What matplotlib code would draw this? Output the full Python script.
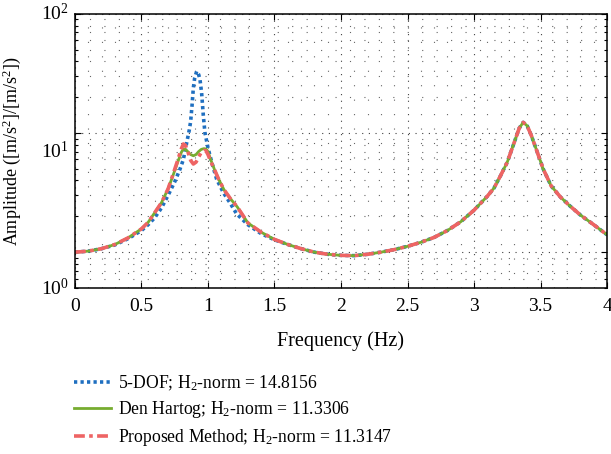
import matplotlib
matplotlib.use("Agg")
import matplotlib.pyplot as plt
import numpy as np
from matplotlib.ticker import FixedLocator, MultipleLocator, NullFormatter

plt.rcParams["font.family"] = ["Liberation Serif", "DejaVu Serif"]
plt.rcParams["mathtext.fontset"] = "custom"
plt.rcParams["mathtext.rm"] = "Liberation Serif"
plt.rcParams["mathtext.it"] = "Liberation Serif:italic"

# valores (frecuencia en Hz, amplitud)
freq_5dof = [0, 0.1, 0.2, 0.3, 0.4, 0.5, 0.55, 0.6, 0.65, 0.7, 0.75, 0.79, 0.815,
             0.84, 0.86, 0.87, 0.88, 0.89, 0.9, 0.915, 0.93, 0.94, 0.952, 0.965,
             0.977, 1.0, 1.03, 1.065, 1.115, 1.165, 1.215, 1.3, 1.4, 1.5, 1.6,
             1.7, 1.8, 1.9, 2.0, 2.1, 2.2, 2.3, 2.4, 2.5, 2.6, 2.7, 2.8, 2.9,
             3.0, 3.1, 3.15, 3.2, 3.25, 3.3, 3.34, 3.37, 3.4, 3.43, 3.47, 3.52,
             3.58, 3.65, 3.72, 3.8, 3.9, 4.0]
amp_5dof = [1.0, 1.02, 1.07, 1.15, 1.3, 1.52, 1.7, 1.95, 2.35, 3.0, 3.9, 5.0, 6.0,
            8.3, 10.7, 12.6, 17.0, 24.0, 29.0, 33.0, 31.0, 28.0, 21.8, 14.0,
            10.1, 7.5, 5.6, 4.1, 3.17, 2.6, 2.1, 1.7, 1.43, 1.27, 1.16,
            1.07, 1.0, 0.96, 0.94, 0.935, 0.96, 1.0, 1.05, 1.12, 1.21, 1.33, 1.52, 1.8,
            2.25, 2.95, 3.45, 4.4, 5.7, 8.2, 11.0, 12.3, 11.5, 9.6, 7.2, 5.0,
            3.6, 2.9, 2.45, 2.05, 1.7, 1.4]

freq_dh = [0, 0.1, 0.2, 0.3, 0.4, 0.5, 0.55, 0.6, 0.65, 0.7, 0.74, 0.77, 0.8,
           0.815, 0.83, 0.85, 0.87, 0.89, 0.91, 0.93, 0.95, 0.97, 0.985, 1.0,
           1.02, 1.05, 1.08, 1.12, 1.17, 1.22, 1.3, 1.4, 1.5, 1.6, 1.7, 1.8,
           1.9, 2.0, 2.1, 2.2, 2.3, 2.4, 2.5, 2.6, 2.7, 2.8, 2.9, 3.0, 3.1,
           3.15, 3.2, 3.25, 3.3, 3.34, 3.37, 3.4, 3.43, 3.47, 3.52, 3.58, 3.65,
           3.72, 3.8, 3.9, 4.0]
amp_dh = [1.0, 1.02, 1.07, 1.16, 1.32, 1.57, 1.78, 2.15, 2.6, 3.4, 4.5, 5.6, 6.9,
          7.35, 7.3, 6.95, 6.6, 6.45, 6.6, 7.0, 7.3, 7.4, 7.35, 7.0,
          6.0, 4.9, 4.1, 3.35, 2.8, 2.4, 1.76, 1.47, 1.28, 1.16, 1.07, 1.0,
          0.96, 0.94, 0.935, 0.96, 1.0, 1.05, 1.12, 1.21, 1.33, 1.52, 1.8, 2.25, 2.95,
          3.45, 4.4, 5.7, 8.2, 11.0, 12.3, 11.5, 9.6, 7.2, 5.0, 3.6, 2.9,
          2.45, 2.05, 1.7, 1.4]

freq_prop = [0, 0.1, 0.2, 0.3, 0.4, 0.5, 0.55, 0.6, 0.65, 0.7, 0.74, 0.77, 0.8,
             0.815, 0.83, 0.85, 0.87, 0.89, 0.91, 0.93, 0.95, 0.97, 0.985, 1.0,
             1.02, 1.05, 1.08, 1.12, 1.17, 1.22, 1.3, 1.4, 1.5, 1.6, 1.7, 1.8,
             1.9, 2.0, 2.1, 2.2, 2.3, 2.4, 2.5, 2.6, 2.7, 2.8, 2.9, 3.0, 3.1,
             3.15, 3.2, 3.25, 3.3, 3.34, 3.37, 3.4, 3.43, 3.47, 3.52, 3.58, 3.65,
             3.72, 3.8, 3.9, 4.0]
amp_prop = [1.0, 1.02, 1.07, 1.16, 1.32, 1.57, 1.78, 2.15, 2.6, 3.4, 4.6, 5.8, 7.4,
            8.1, 7.9, 6.9, 5.9, 5.5, 5.7, 6.3, 6.9, 7.15, 7.1, 6.6,
            5.8, 4.9, 4.1, 3.35, 2.8, 2.4, 1.76, 1.47, 1.28, 1.16, 1.07, 1.0,
            0.96, 0.94, 0.935, 0.96, 1.0, 1.05, 1.12, 1.21, 1.33, 1.52, 1.8, 2.25, 2.95,
            3.45, 4.4, 5.7, 8.2, 11.0, 12.3, 11.5, 9.6, 7.2, 5.0, 3.6, 2.9,
            2.45, 2.05, 1.7, 1.4]

etiquetas = ["5-DOF; H$_2$-norm = 14.8156",
             "Den Hartog; H$_2$-norm = 11.3306",
             "Proposed Method; H$_2$-norm = 11.3147"]
xticks = [0, 0.5, 1, 1.5, 2, 2.5, 3, 3.5, 4]
xtick_labels = ["0", "0.5", "1", "1.5", "2", "2.5", "3", "3.5", "4"]
ytick_labels = ["$10^0$", "$10^1$", "$10^2$"]

fig = plt.figure(figsize=(6.11, 4.54), dpi=100)
ax = fig.add_axes([0.1227, 0.3656, 0.8708, 0.6036])

ax.plot(freq_5dof, amp_5dof, color="#1f6fc0", lw=2.6, linestyle=(0, (0.9, 0.9)),
        label=etiquetas[0])
ax.plot(freq_dh, amp_dh, color="#77ac30", lw=2.0, label=etiquetas[1])
ax.plot(freq_prop, amp_prop, color="#ee6464", lw=2.6, linestyle=(0, (3, 1.2, 1, 1.2)),
        label=etiquetas[2])

ax.set_yscale("log")
ax.set_xlim(0, 4)
ax.set_ylim(0.5, 100)
ax.xaxis.set_major_locator(FixedLocator(xticks))
ax.set_xticklabels(xtick_labels)
ax.xaxis.set_minor_locator(MultipleLocator(0.1))
ax.yaxis.set_major_locator(FixedLocator([1, 10, 100]))
ax.yaxis.set_minor_locator(FixedLocator([0.5, 0.6, 0.7, 0.8, 0.9] +
                                        [k * 1.0 for k in range(2, 10)] +
                                        [k * 10.0 for k in range(2, 10)]))
ax.yaxis.set_major_formatter(NullFormatter())
ax.yaxis.set_minor_formatter(NullFormatter())

ax.grid(True, which="major", color="0.25", lw=0.8, linestyle=(0, (1, 5)))
ax.grid(True, which="minor", color="0.4", lw=0.8, linestyle=(0, (1, 12)))
ax.set_axisbelow(True)

ax.tick_params(which="both", direction="in", top=True, right=True, labelsize=14)
ax.tick_params(which="major", length=4, width=0.8, pad=7)
ax.tick_params(axis="y", which="minor", length=2.5, width=0.8)
ax.tick_params(axis="x", which="minor", length=0)
for s in ax.spines.values():
    s.set_linewidth(1.1)

for i, t in enumerate(ytick_labels):
    ax.text(-0.012, i / 2, t, transform=ax.transAxes, ha="right", va="center",
            fontsize=14)

ax.set_xlabel("Frequency (Hz)", fontsize=14.5, labelpad=12)
ax.set_ylabel("Amplitude ([m/s$^2$]/[m/s$^2$])", fontsize=13)
ax.yaxis.set_label_coords(-0.097, 0.5)

fig.legend(loc="upper left", bbox_to_anchor=(0.107, 0.197),
           frameon=False, fontsize=12.7, handlelength=2.1, handletextpad=0.4,
           labelspacing=0.38, borderpad=0)

fig.savefig("out.png", dpi=100)
